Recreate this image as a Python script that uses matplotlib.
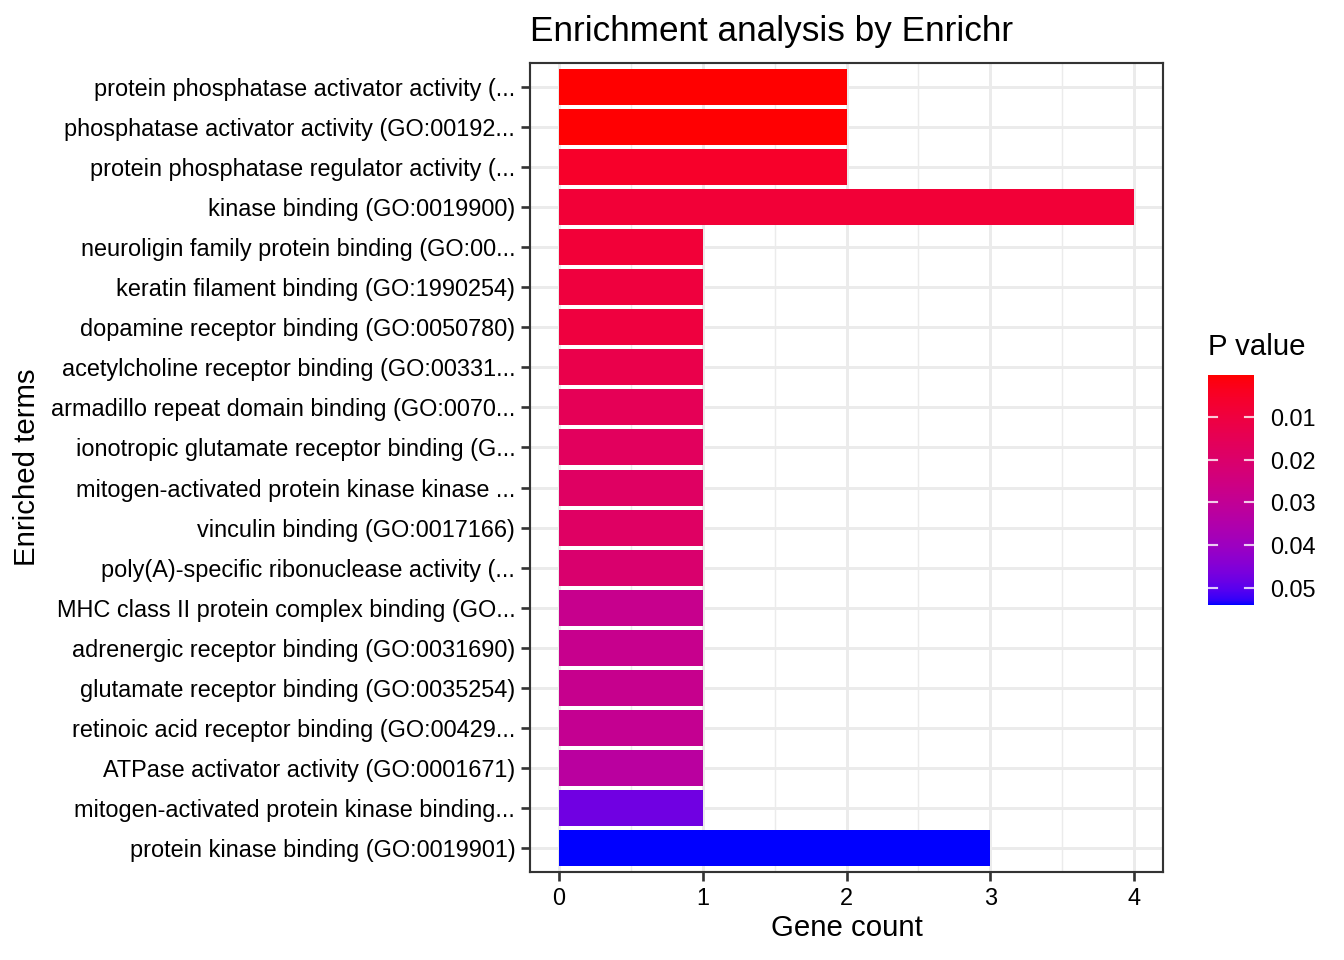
import numpy as np
import matplotlib
matplotlib.use("Agg")
import matplotlib.pyplot as plt
from matplotlib.colors import ListedColormap, Normalize
import matplotlib.cm as cm

plt.rcParams['font.family'] = ['Liberation Sans', 'DejaVu Sans']

# Data (top to bottom)
terms = [
    "protein phosphatase activator activity (...",
    "phosphatase activator activity (GO:00192...",
    "protein phosphatase regulator activity (...",
    "kinase binding (GO:0019900)",
    "neuroligin family protein binding (GO:00...",
    "keratin filament binding (GO:1990254)",
    "dopamine receptor binding (GO:0050780)",
    "acetylcholine receptor binding (GO:00331...",
    "armadillo repeat domain binding (GO:0070...",
    "ionotropic glutamate receptor binding (G...",
    "mitogen-activated protein kinase kinase ...",
    "vinculin binding (GO:0017166)",
    "poly(A)-specific ribonuclease activity (...",
    "MHC class II protein complex binding (GO...",
    "adrenergic receptor binding (GO:0031690)",
    "glutamate receptor binding (GO:0035254)",
    "retinoic acid receptor binding (GO:00429...",
    "ATPase activator activity (GO:0001671)",
    "mitogen-activated protein kinase binding...",
    "protein kinase binding (GO:0019901)",
]
gene_count = [2, 2, 2, 4, 1, 1, 1, 1, 1, 1, 1, 1, 1, 1, 1, 1, 1, 1, 1, 3]
p_values = [0.0002, 0.0006, 0.0056, 0.0082, 0.0086, 0.0098, 0.0100, 0.0126,
            0.0152, 0.0170, 0.0180, 0.0181, 0.0206, 0.0280, 0.0281, 0.0282,
            0.0290, 0.0325, 0.0475, 0.0540]
cbar_ticks = [0.01, 0.02, 0.03, 0.04, 0.05]
x_ticks = [0, 1, 2, 3, 4]


# Lab-space gradient red -> blue (like ggplot2 scale_fill_gradient)
def srgb_to_lin(c):
    c = np.asarray(c, float)
    return np.where(c <= 0.04045, c / 12.92, ((c + 0.055) / 1.055) ** 2.4)


def lin_to_srgb(c):
    c = np.clip(c, 0, 1)
    return np.where(c <= 0.0031308, 12.92 * c, 1.055 * c ** (1 / 2.4) - 0.055)


M = np.array([[0.4124, 0.3576, 0.1805], [0.2126, 0.7152, 0.0722], [0.0193, 0.1192, 0.9505]])
Minv = np.linalg.inv(M)
WP = np.array([0.95047, 1.0, 1.08883])


def f(t):
    return np.where(t > (6 / 29) ** 3, np.cbrt(t), t / (3 * (6 / 29) ** 2) + 4 / 29)


def finv(t):
    return np.where(t > 6 / 29, t ** 3, 3 * (6 / 29) ** 2 * (t - 4 / 29))


def rgb_to_lab(rgb):
    xyz = M @ srgb_to_lin(rgb) / WP
    fx, fy, fz = f(xyz)
    return np.array([116 * fy - 16, 500 * (fx - fy), 200 * (fy - fz)])


def lab_to_rgb(lab):
    L, a, b = lab
    fy = (L + 16) / 116
    fx = fy + a / 500
    fz = fy - b / 200
    xyz = np.array([finv(fx), finv(fy), finv(fz)]) * WP
    return lin_to_srgb(Minv @ xyz)


lab_lo = rgb_to_lab([1, 0, 0])
lab_hi = rgb_to_lab([0, 0, 1])
ts = np.linspace(0, 1, 256)
cols = [np.clip(lab_to_rgb(lab_lo + t * (lab_hi - lab_lo)), 0, 1) for t in ts]
cmap = ListedColormap(cols)
norm = Normalize(vmin=min(p_values), vmax=max(p_values))

fig = plt.figure(figsize=(7, 5), dpi=192)
ax = fig.add_axes([530 / 1344, 1 - 872 / 960, (1163 - 530) / 1344, (872 - 63) / 960])

n = len(terms)
ypos = np.arange(n)[::-1] + 1
ax.barh(ypos, gene_count, height=0.9, color=cmap(norm(p_values)), zorder=3)

ax.set_xlim(-0.2, 4.2)
ax.set_ylim(0.4, n + 0.6)
ax.set_xticks(x_ticks)
ax.set_xticks(np.arange(0.5, 4.0, 1), minor=True)
ax.set_yticks(ypos)
ax.set_yticklabels(terms)
ax.grid(which='major', color='#EBEBEB', linewidth=1.1, zorder=0)
ax.grid(which='minor', axis='x', color='#EBEBEB', linewidth=0.55, zorder=0)
ax.tick_params(which='minor', length=0)
ax.tick_params(which='major', length=3.5, width=1.0, color='#333333',
               labelsize=8.8, labelcolor='black', pad=2.0)
for s in ax.spines.values():
    s.set_color('#333333')
    s.set_linewidth(0.8)
    s.set_zorder(5)

ax.set_xlabel("Gene count", fontsize=11)
ax.set_ylabel("Enriched terms", fontsize=11)
ax.xaxis.set_label_coords(0.5, (872 - 928) / 809, transform=ax.transAxes)
ax.yaxis.set_label_coords((27 - 530) / 633, 0.5, transform=ax.transAxes)
ax.xaxis.label.set_va('center')
ax.yaxis.label.set_va('center')
fig.text(530 / 1344, 1 - 31 / 960, "Enrichment analysis by Enrichr", fontsize=13.2,
         ha='left', va='center')

# Colorbar
cax = fig.add_axes([1208 / 1344, 1 - 605 / 960, 46 / 1344, 230 / 960])
sm = cm.ScalarMappable(norm=norm, cmap=cmap)
cb = fig.colorbar(sm, cax=cax)
cb.outline.set_visible(False)
cax.invert_yaxis()
cb.set_ticks(cbar_ticks)
cb.set_ticklabels([f"{t:.2f}" for t in cbar_ticks])
cax.tick_params(length=0, labelsize=8.8, pad=6)
for t in cbar_ticks:
    cax.plot([0, 0.2], [t, t], color='white', lw=0.8, transform=cax.get_yaxis_transform(), alpha=0.8)
    cax.plot([0.8, 1.0], [t, t], color='white', lw=0.8, transform=cax.get_yaxis_transform(), alpha=0.8)
fig.text(1208 / 1344, 1 - 347 / 960, "P value", fontsize=11, ha='left', va='center')

fig.savefig("out.png", dpi=192)
